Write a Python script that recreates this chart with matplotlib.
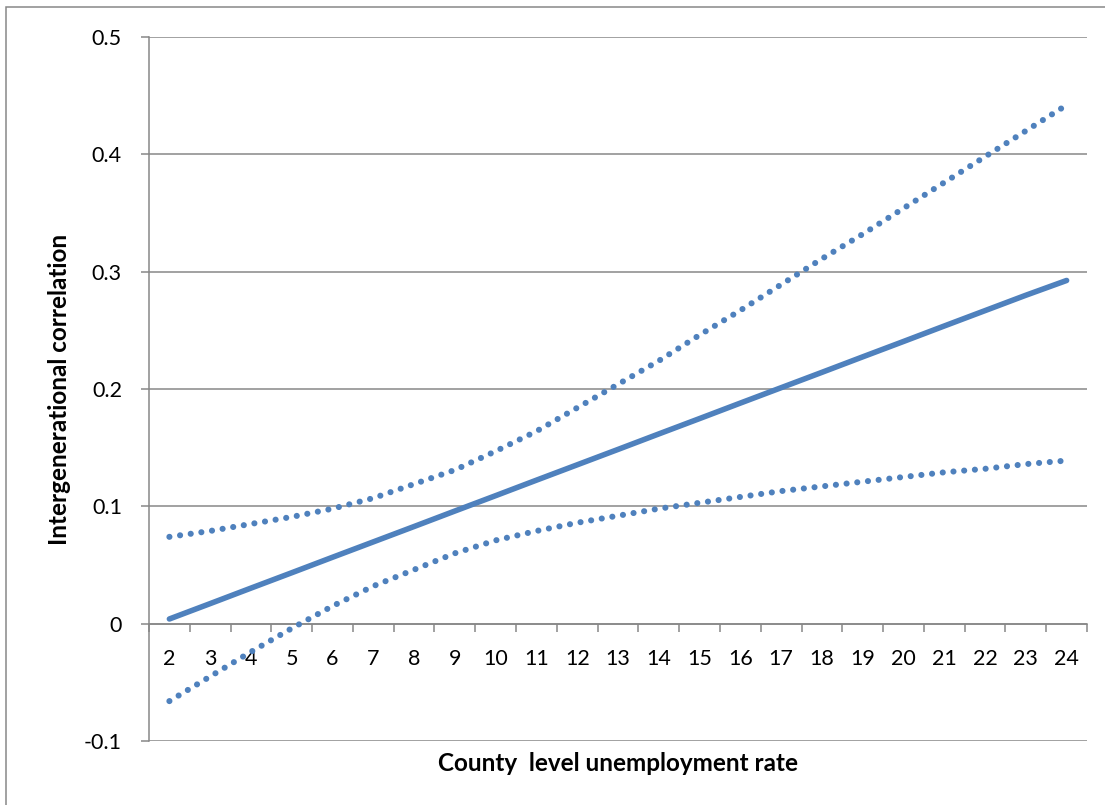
import matplotlib
matplotlib.use("Agg")
import matplotlib.pyplot as plt
from matplotlib.patches import Rectangle

# County level unemployment rate categories
rates = list(range(2, 25))

# estimated intergenerational correlation
estimate = [0.0040, 0.0171, 0.0303, 0.0434, 0.0566, 0.0697, 0.0828, 0.0960,
            0.1091, 0.1223, 0.1354, 0.1485, 0.1617, 0.1748, 0.1880, 0.2011,
            0.2142, 0.2274, 0.2405, 0.2537, 0.2668, 0.2799, 0.2925]
upper = [0.074, 0.079, 0.085, 0.091, 0.098, 0.107, 0.119, 0.131, 0.147,
         0.164, 0.184, 0.204, 0.224, 0.246, 0.267, 0.289, 0.311, 0.332,
         0.354, 0.376, 0.398, 0.420, 0.442]
lower = [-0.066, -0.045, -0.024, -0.004, 0.015, 0.032, 0.046, 0.060, 0.071,
         0.079, 0.086, 0.092, 0.098, 0.103, 0.108, 0.113, 0.117, 0.121,
         0.125, 0.129, 0.132, 0.136, 0.139]

yticks = [-0.1, 0, 0.1, 0.2, 0.3, 0.4, 0.5]
ytick_labels = ["-0.1", "0", "0.1", "0.2", "0.3", "0.4", "0.5"]

BLUE = "#4f81bd"
GRID = "#878787"
FONT = "Lato"

plt.rcParams["font.family"] = [FONT, "DejaVu Sans"]

W, H = 1105, 805
fig = plt.figure(figsize=(W / 100, H / 100), dpi=100)
ax = fig.add_axes([149 / W, 1 - 741 / H, (1087 - 149) / W, (741 - 37) / H])

# outer chart border (cut off at right and bottom)
fig.patches.append(Rectangle((6 / W, -0.1), 1.2, 1 - 7 / H + 0.1,
                             transform=fig.transFigure, fill=False,
                             edgecolor=GRID, linewidth=1.1))

x = list(range(len(rates)))
ax.plot(x, estimate, color=BLUE, linewidth=4.0, solid_capstyle="round", zorder=3)
for band in (upper, lower):
    ax.plot(x, band, color=BLUE, linewidth=4.4, linestyle=(0, (0.01, 1.75)),
            dash_capstyle="round", zorder=3)

ax.set_xlim(-0.5, len(rates) - 0.5)
ax.set_ylim(-0.1, 0.5)

# horizontal gridlines
for v in yticks[1:]:
    ax.axhline(v, color=GRID, linewidth=1.1, zorder=1)
ax.axhline(-0.1, color=GRID, linewidth=1.1, zorder=1)

for s in ("top", "right"):
    ax.spines[s].set_visible(False)
ax.spines["left"].set_color(GRID)
ax.spines["left"].set_linewidth(1.1)
ax.spines["bottom"].set_position(("data", 0))
ax.spines["bottom"].set_color(GRID)
ax.spines["bottom"].set_linewidth(1.1)

ax.set_yticks(yticks)
ax.set_yticklabels(ytick_labels)
ax.tick_params(axis="y", direction="out", length=6, width=1.1, color=GRID,
               pad=13.5, labelsize=15.5)

ax.set_xticks(x)
ax.set_xticklabels([str(r) for r in rates])
ax.set_xticks([i - 0.5 for i in range(len(rates) + 1)], minor=True)
ax.tick_params(axis="x", which="major", length=0, pad=18, labelsize=15.5)
ax.tick_params(axis="x", which="minor", direction="out", length=6, width=1.1,
               color=GRID)

ax.set_ylabel("Intergenerational correlation", fontsize=17.5, fontweight="bold")
ax.yaxis.set_label_coords(-0.083, 0.5)
ax.set_xlabel("County  level unemployment rate", fontsize=17.5, fontweight="bold")
ax.xaxis.set_label_coords(0.5, -0.016)

fig.savefig("out.png", dpi=100)
